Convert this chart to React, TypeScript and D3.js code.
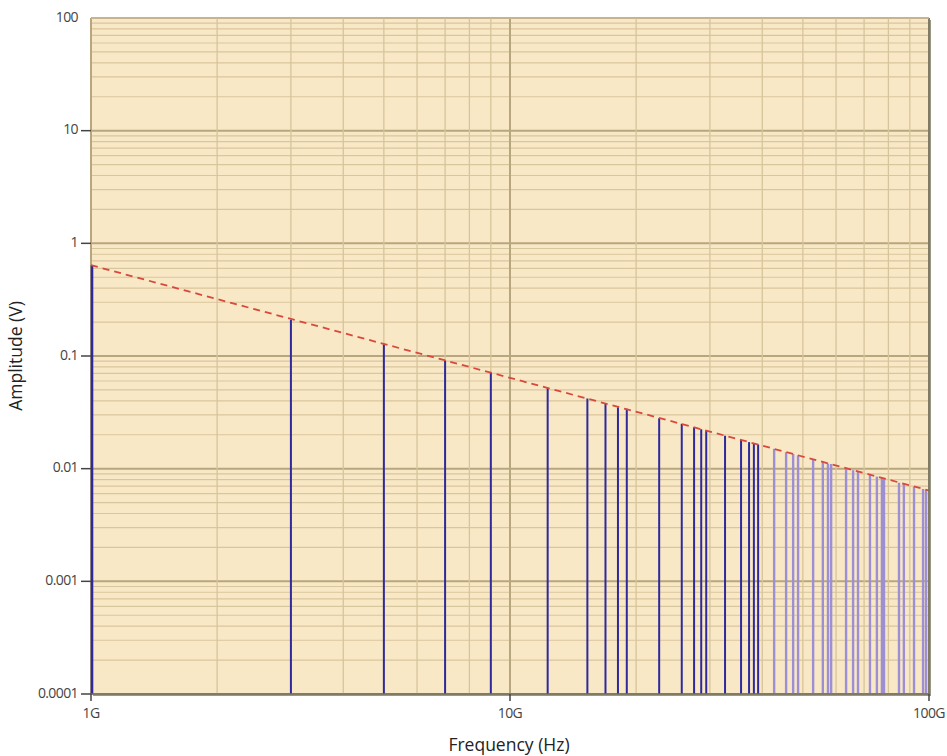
import React, { useEffect, useRef } from 'react';
import * as d3 from 'd3';

// Harmonic lines: frequency (GHz) and amplitude (V)
const stemFreqGHz = [
  1.0, 3.0, 5.0, 7.0, 9.0, 12.3, 15.3, 16.9, 18.1, 19.0,
  22.7, 25.7, 27.5, 28.6, 29.4, 32.6, 35.6, 37.2, 38.2, 39.1,
  42.7, 45.6, 47.4, 48.7, 52.9, 55.8, 57.4, 58.4, 63.4, 65.9,
  67.7, 72.3, 75.1, 77.2, 78.1, 84.8, 87.1, 92.1, 96.8, 98.4,
];
const stemAmp = [
  0.64, 0.21, 0.127, 0.091, 0.071, 0.052, 0.042, 0.038, 0.035, 0.034,
  0.028, 0.025, 0.0233, 0.0224, 0.0218, 0.0196, 0.018, 0.0172, 0.0168, 0.0164,
  0.015, 0.014, 0.0135, 0.0131, 0.0121, 0.0115, 0.0111, 0.011, 0.0101, 0.0097,
  0.0095, 0.0089, 0.0085, 0.0083, 0.0082, 0.0075, 0.0073, 0.0069, 0.0066, 0.0065,
];

// Envelope (dashed red)
const envFreqGHz = [1, 100];
const envAmp = [0.64, 0.0064];

const xTickValues = [1e9, 1e10, 1e11];
const xTickLabels = ['1G', '10G', '100G'];
const yTickValues = [1e-4, 1e-3, 1e-2, 1e-1, 1, 10, 100];
const yTickLabels = ['0.0001', '0.001', '0.01', '0.1', '1', '10', '100'];

const W = 947;
const H = 756;

export default function App() {
  const svgRef = useRef<SVGSVGElement>(null);

  useEffect(() => {
    if (!svgRef.current) return;
    const svg = d3.select(svgRef.current);
    svg.selectAll('*').remove();

    const left = 91;
    const right = 929;
    const top = 18;
    const bottom = 694;

    const x = d3.scaleLog().domain([1e9, 1e11]).range([left, right]);
    const y = d3.scaleLog().domain([1e-4, 100]).range([bottom, top]);

    // drop shadow on right / bottom
    svg.append('rect')
      .attr('x', left + 2).attr('y', top + 2)
      .attr('width', right - left).attr('height', bottom - top)
      .attr('fill', '#9a9884');

    svg.append('rect')
      .attr('x', left).attr('y', top)
      .attr('width', right - left).attr('height', bottom - top)
      .attr('fill', '#f9e8c6');

    const grid = svg.append('g');

    // horizontal grid
    for (let e = -4; e <= 2; e++) {
      for (let m = 1; m <= 9; m++) {
        const v = m * Math.pow(10, e);
        if (v > 100) break;
        const yy = y(v);
        grid.append('line')
          .attr('x1', left).attr('x2', right)
          .attr('y1', yy).attr('y2', yy)
          .attr('stroke', m === 1 ? '#b8a67f' : '#d8c69d')
          .attr('stroke-width', m === 1 ? 2 : 1.2);
      }
    }

    // vertical grid
    for (let e = 9; e <= 11; e++) {
      for (let m = 1; m <= 9; m++) {
        const v = m * Math.pow(10, e);
        if (v > 1e11) break;
        const xx = x(v);
        grid.append('line')
          .attr('x1', xx).attr('x2', xx)
          .attr('y1', top).attr('y2', bottom)
          .attr('stroke', m === 1 ? '#b8a67f' : '#d6c49a')
          .attr('stroke-width', m === 1 ? 2 : 1.3);
      }
    }

    // stems
    const stems = stemFreqGHz.map((f, i) => ({ f: f * 1e9, a: stemAmp[i] }));
    svg.append('g')
      .selectAll('line')
      .data(stems)
      .join('line')
      .attr('x1', d => x(d.f) + (d.f === 1e9 ? 1 : 0))
      .attr('x2', d => x(d.f) + (d.f === 1e9 ? 1 : 0))
      .attr('y1', bottom)
      .attr('y2', d => y(d.a))
      .attr('stroke', d => (d.f < 4e10 ? '#2e2a9e' : '#9d8fd4'))
      .attr('stroke-width', d => (d.f === 1e9 ? 2.6 : d.f < 4e10 ? 2 : 2.4));

    // envelope
    const env = envFreqGHz.map((f, i) => ({ f: f * 1e9, a: envAmp[i] }));
    const lineGen = d3.line<{ f: number; a: number }>()
      .x(d => x(d.f))
      .y(d => y(d.a));
    svg.append('path')
      .attr('d', lineGen(env) || '')
      .attr('fill', 'none')
      .attr('stroke', '#d8493c')
      .attr('stroke-width', 1.8)
      .attr('stroke-dasharray', '7,5');

    // plot frame
    svg.append('line')
      .attr('x1', left).attr('x2', right)
      .attr('y1', bottom).attr('y2', bottom)
      .attr('stroke', '#6e6c5c').attr('stroke-width', 1.5);
    svg.append('line')
      .attr('x1', right).attr('x2', right)
      .attr('y1', top).attr('y2', bottom)
      .attr('stroke', '#6e6c5c').attr('stroke-width', 1.5);
    svg.append('line')
      .attr('x1', left).attr('x2', right)
      .attr('y1', top).attr('y2', top)
      .attr('stroke', '#cdb991').attr('stroke-width', 1.5);

    const font = '"Open Sans", "DejaVu Sans", sans-serif';

    // y axis ticks
    yTickValues.forEach((v, i) => {
      const yy = y(v);
      if (i < yTickValues.length - 1) {
        svg.append('line')
          .attr('x1', left - 10).attr('x2', left)
          .attr('y1', yy).attr('y2', yy)
          .attr('stroke', '#444').attr('stroke-width', 1.5);
      }
      svg.append('text')
        .attr('x', left - 13)
        .attr('y', yy)
        .attr('text-anchor', 'end')
        .attr('dominant-baseline', 'middle')
        .attr('fill', '#444')
        .attr('font-size', '14px')
        .attr('font-family', font)
        .attr('letter-spacing', '-0.6')
        .text(yTickLabels[i]);
    });

    // x axis ticks
    xTickValues.forEach((v, i) => {
      const xx = x(v);
      svg.append('line')
        .attr('x1', xx).attr('x2', xx)
        .attr('y1', bottom).attr('y2', bottom + 7)
        .attr('stroke', '#444').attr('stroke-width', 1.5);
      svg.append('text')
        .attr('x', xx)
        .attr('y', bottom + 20)
        .attr('text-anchor', 'middle')
        .attr('dominant-baseline', 'middle')
        .attr('fill', '#444')
        .attr('font-size', '14px')
        .attr('font-family', font)
        .attr('letter-spacing', '-0.6')
        .text(xTickLabels[i]);
    });

    // axis titles
    svg.append('text')
      .attr('x', (left + right) / 2 - 1)
      .attr('y', 746)
      .attr('text-anchor', 'middle')
      .attr('dominant-baseline', 'middle')
      .attr('fill', '#222')
      .attr('font-size', '17.5px')
      .attr('font-family', font)
      .text('Frequency (Hz)');

    svg.append('text')
      .attr('transform', `translate(17, ${(top + bottom) / 2}) rotate(-90)`)
      .attr('text-anchor', 'middle')
      .attr('dominant-baseline', 'middle')
      .attr('fill', '#222')
      .attr('font-size', '17.5px')
      .attr('font-family', font)
      .text('Amplitude (V)');
  }, []);

  return (
    <svg
      ref={svgRef}
      width={W}
      height={H}
      style={{ position: 'absolute', left: 0, top: 0, background: '#fff' }}
    />
  );
}
